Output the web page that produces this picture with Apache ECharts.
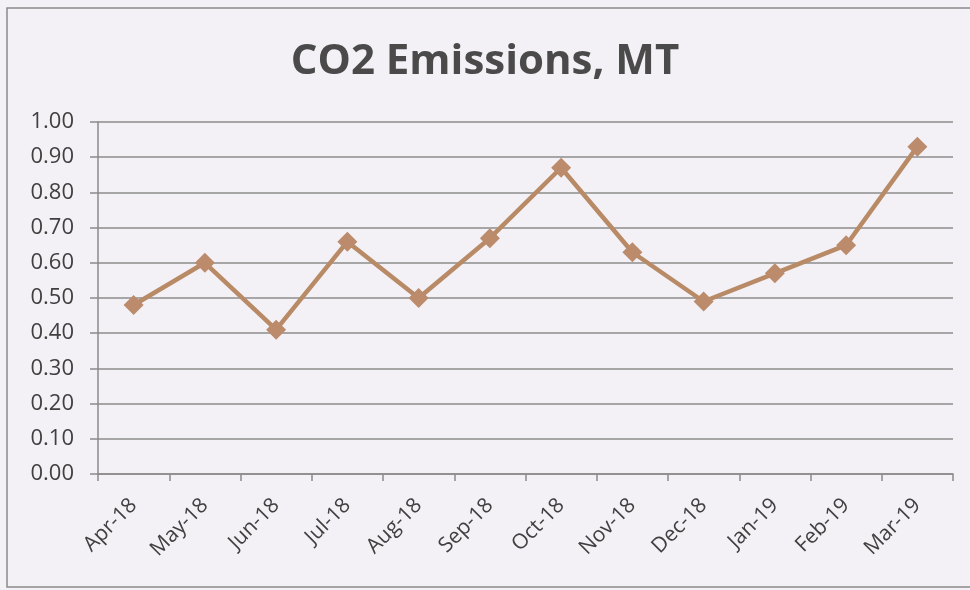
<!DOCTYPE html>
<html>
<head>
<meta charset="utf-8">
<script src="https://cdn.jsdelivr.net/npm/echarts@6/dist/echarts.min.js"></script>
<style>
html,body{margin:0;padding:0;background:#f3f1f6;}
#c{width:970px;height:590px;}
</style>
</head>
<body>
<div id="c"></div>
<script>
const titleText = "CO2 Emissions, MT";
const categories = ["Apr-18","May-18","Jun-18","Jul-18","Aug-18","Sep-18","Oct-18","Nov-18","Dec-18","Jan-19","Feb-19","Mar-19"];
const emissions = [0.48,0.60,0.41,0.66,0.50,0.67,0.87,0.63,0.49,0.57,0.65,0.93];
const yMin = 0, yMax = 1, yStep = 0.1;

const chart = echarts.init(document.getElementById('c'));
chart.setOption({
  backgroundColor: '#f3f1f6',
  animation: false,
  title: {
    text: titleText,
    left: 'center',
    top: 36,
    textStyle: {fontFamily: 'Open Sans', fontWeight: 'bold', fontSize: 42, color: '#4a4a4a'}
  },
  grid: {left: 98, right: 17, top: 122, bottom: 116},
  graphic: [{
    type: 'rect',
    shape: {x: 7, y: 8, width: 975, height: 579},
    style: {fill: 'none', stroke: '#8a8a8a', lineWidth: 1.5},
    silent: true
  }],
  xAxis: {
    type: 'category',
    data: categories,
    boundaryGap: true,
    axisLine: {lineStyle: {color: '#8a8a8a', width: 1.5}},
    axisTick: {show: true, alignWithLabel: false, length: 7, lineStyle: {color: '#8a8a8a', width: 1.5}},
    axisLabel: {rotate: 45, margin: 28, fontFamily: 'Open Sans', fontSize: 21, color: '#404040'}
  },
  yAxis: {
    type: 'value',
    min: yMin, max: yMax, interval: yStep,
    axisLine: {show: true, lineStyle: {color: '#8a8a8a', width: 1.5}},
    axisTick: {show: true, length: 8, lineStyle: {color: '#8a8a8a', width: 1.5}},
    splitLine: {show: true, lineStyle: {color: '#8c8c8c', width: 1.5}},
    axisLabel: {formatter: v => v.toFixed(2), margin: 24, fontFamily: 'Open Sans', fontSize: 22, color: '#404040'}
  },
  series: [{
    type: 'line',
    data: emissions,
    symbol: 'diamond',
    symbolSize: 20,
    lineStyle: {color: '#b88a66', width: 4.5},
    itemStyle: {color: '#bb8b6c'}
  }]
});
</script>
</body>
</html>
